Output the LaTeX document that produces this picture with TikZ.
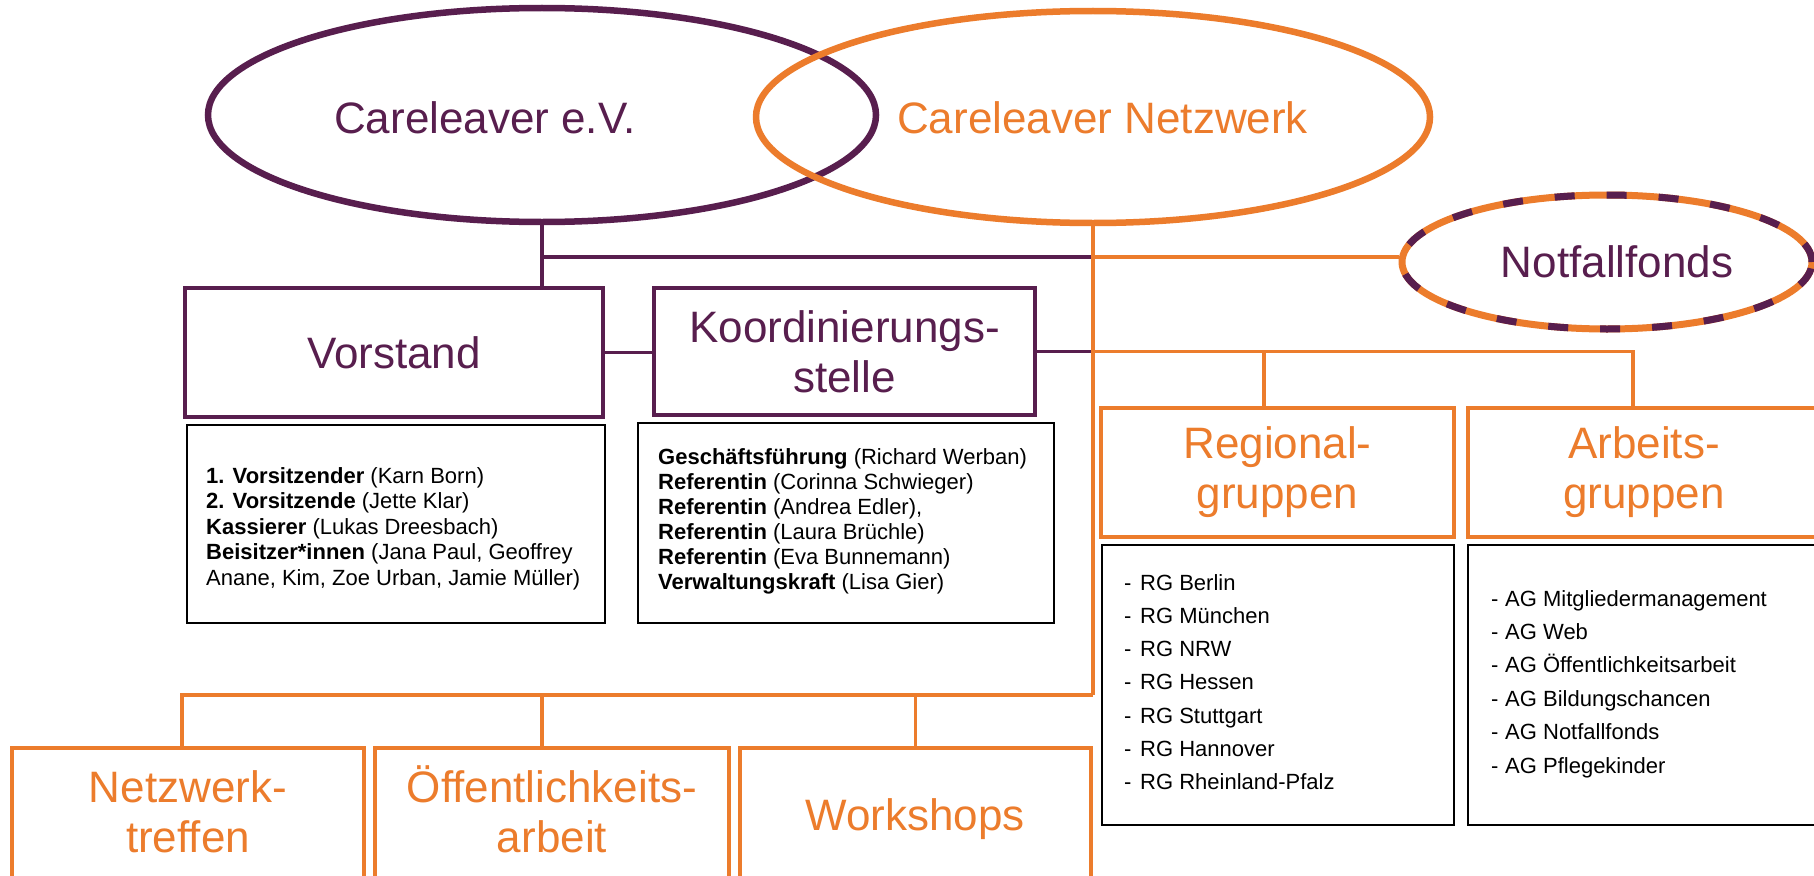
\documentclass[tikz,border=0pt]{standalone}
\usepackage{fontspec}
\setmainfont{Liberation Sans}
\usetikzlibrary{shapes.geometric}
\definecolor{cpurple}{RGB}{88,30,78}
\definecolor{corange}{RGB}{236,124,44}
\begin{document}
\begin{tikzpicture}[x=1pt,y=-1pt,
  big/.style={font=\fontsize{44}{50}\selectfont},
  item/.style={font=\fontsize{22}{25}\selectfont, inner sep=0pt, anchor=base west, text=black},
  pline/.style={draw=cpurple, line width=3.5pt},
  oline/.style={draw=corange, line width=3.5pt},
  pbox/.style={rectangle, draw=cpurple, line width=3.8pt, inner sep=0pt, big, text=cpurple, align=center},
  obox/.style={rectangle, draw=corange, line width=4.5pt, inner sep=0pt, big, text=corange, align=center},
  tbox/.style={rectangle, draw=black, line width=2.8pt, inner sep=0pt},
  pell/.style={ellipse, draw=cpurple, line width=6.5pt, inner sep=0pt},
  oell/.style={ellipse, draw=corange, line width=6.5pt, inner sep=0pt},
  ptext/.style={big, text=cpurple, inner sep=0pt},
  otext/.style={big, text=corange, inner sep=0pt, align=center},
]
\fill[white] (0,0) rectangle (1814,875);
\useasboundingbox (0,0) rectangle (1814,875);

% top ellipses
\node[pell, minimum width=668pt, minimum height=214pt] (e1) at (542,115) {};
\node[oell, minimum width=674pt, minimum height=212pt] (e2) at (1093,117) {};
\node[ptext, anchor=base] (e1t) at (485,133) {Careleaver e.V.};
\node[big, text=corange, inner sep=0pt, anchor=base west] (e2t) at (897,133) {Careleaver Netzwerk};

% Notfallfonds
\node[ellipse, draw=corange, line width=7pt, minimum width=410pt, minimum height=134pt] (nf) at (1607,262) {};
\node[ellipse, draw=cpurple, line width=7pt, dash pattern=on 20pt off 32pt, minimum width=410pt, minimum height=134pt] (nfd) at (nf) {};
\node[ptext, anchor=base] (nft) at (1617,277) {Notfallfonds};

% purple boxes
\node[pbox, minimum width=418pt, minimum height=129pt] (vorstand) at (394,352.5) {Vorstand};
\node[pbox, minimum width=381pt, minimum height=127pt] (koord) at (844.5,351.5) {Koordinierungs-\\stelle};

% orange boxes
\node[obox, minimum width=353pt, minimum height=129pt] (regional) at (1277.5,472.5) {Regional-\\gruppen};
\node[obox, minimum width=352pt, minimum height=129pt] (arbeits) at (1644,472.5) {Arbeits-\\gruppen};
\node[obox, minimum width=352pt, minimum height=172pt] (netz) at (188,834) {};
\node[obox, minimum width=354pt, minimum height=172pt] (oeff) at (552,834) {};
\node[obox, minimum width=351pt, minimum height=172pt] (work) at (915.5,834) {};
\node[otext, anchor=center] (netzt) at (188,812) {Netzwerk-\\treffen};
\node[otext, anchor=center] (oefft) at (552,809) {Öffentlichkeits-\\arbeit};
\node[otext, anchor=base] (workt) at (915,830) {Workshops};

% text boxes
\node[tbox, minimum width=418pt, minimum height=198pt] (vtext) at (396,524) {};
\node[tbox, minimum width=416pt, minimum height=200pt] (ktext) at (846,523) {};
\node[tbox, minimum width=352pt, minimum height=280pt] (rtext) at (1278,685) {};
\node[tbox, minimum width=352pt, minimum height=280pt] (atext) at (1644,685) {};

% Vorstand list
\node[item] (v1) at (206,483) {\textbf{1. Vorsitzender} (Karn Born)};
\node[item] (v2) at (206,508.5) {\textbf{2. Vorsitzende} (Jette Klar)};
\node[item] (v3) at (206,534) {\textbf{Kassierer} (Lukas Dreesbach)};
\node[item] (v4) at (206,559.5) {\textbf{Beisitzer*innen} (Jana Paul, Geoffrey};
\node[item] (v5) at (206,585) {Anane, Kim, Zoe Urban, Jamie Müller)};

% Koordinierungsstelle list
\node[item] (k1) at (658,464) {\textbf{Geschäftsführung} (Richard Werban)};
\node[item] (k2) at (658,489) {\textbf{Referentin} (Corinna Schwieger)};
\node[item] (k3) at (658,514) {\textbf{Referentin} (Andrea Edler),};
\node[item] (k4) at (658,539) {\textbf{Referentin} (Laura Brüchle)};
\node[item] (k5) at (658,564) {\textbf{Referentin} (Eva Bunnemann)};
\node[item] (k6) at (658,589) {\textbf{Verwaltungskraft} (Lisa Gier)};

% Regionalgruppen list
\node[item] (r1) at (1124,590) {\makebox[16pt][l]{-}RG Berlin};
\node[item] (r2) at (1124,623.3) {\makebox[16pt][l]{-}RG München};
\node[item] (r3) at (1124,656.6) {\makebox[16pt][l]{-}RG NRW};
\node[item] (r4) at (1124,689.9) {\makebox[16pt][l]{-}RG Hessen};
\node[item] (r5) at (1124,723.2) {\makebox[16pt][l]{-}RG Stuttgart};
\node[item] (r6) at (1124,756.5) {\makebox[16pt][l]{-}RG Hannover};
\node[item] (r7) at (1124,789.8) {\makebox[16pt][l]{-}RG Rheinland-Pfalz};

% Arbeitsgruppen list
\node[item] (a1) at (1491,606) {\makebox[14pt][l]{-}AG Mitgliedermanagement};
\node[item] (a2) at (1491,639.4) {\makebox[14pt][l]{-}AG Web};
\node[item] (a3) at (1491,672.8) {\makebox[14pt][l]{-}AG Öffentlichkeitsarbeit};
\node[item] (a4) at (1491,706.2) {\makebox[14pt][l]{-}AG Bildungschancen};
\node[item] (a5) at (1491,739.6) {\makebox[14pt][l]{-}AG Notfallfonds};
\node[item] (a6) at (1491,773) {\makebox[14pt][l]{-}AG Pflegekinder};

% connectors
\coordinate (tr1) at (e2.south |- 0,257);
\coordinate (trk) at (koord.east -| e2.south);
\coordinate (trb) at (e2.south |- 0,695);
\draw[pline] (e1.south) -- (e1.south |- vorstand.north);
\draw[pline] (e1.south |- tr1) -- (tr1);
\draw[oline] (tr1) -- (tr1 -| nf.west);
\draw[pline] (vorstand.east) -- (vorstand.east -| koord.west);
\draw[pline] (koord.east) -- (trk);
\draw[oline] (e2.south) -- (trb);
\draw[oline] (trk) -| ([xshift=-11pt]arbeits.north);
\draw[oline] ([xshift=-13.5pt]regional.north) -- ([xshift=-13.5pt]regional.north |- trk);
\draw[oline] (trb) -| ([xshift=-6pt]netz.north);
\draw[oline] ([xshift=-10pt]oeff.north) -- ([xshift=-10pt]oeff.north |- trb);
\draw[oline] (work.north) -- (work.north |- trb);
\end{tikzpicture}
\end{document}
